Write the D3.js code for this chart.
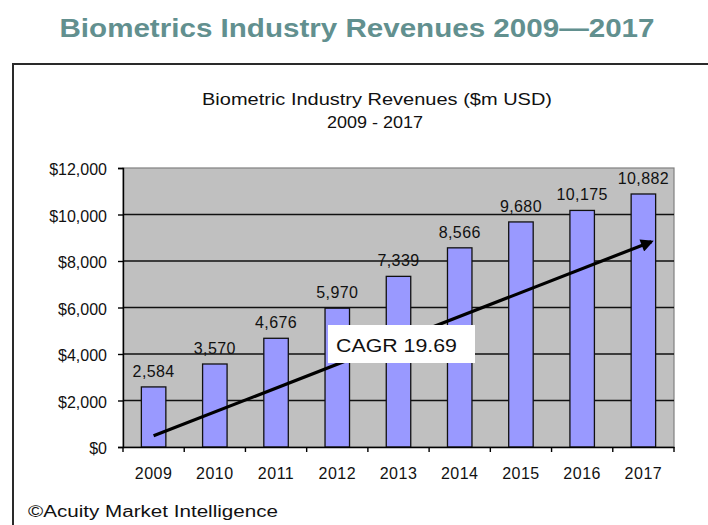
<!DOCTYPE html>
<html>
<head>
<meta charset="utf-8">
<script src="https://cdn.jsdelivr.net/npm/d3@7"></script>
<style>
  html, body { margin: 0; padding: 0; background: #fff; }
  svg { display: block; font-family: "Liberation Sans", Arial, sans-serif; }
</style>
</head>
<body>
<svg id="chart" width="708" height="525"></svg>
<script>
// Biometric industry revenues, $m USD
const years = ["2009", "2010", "2011", "2012", "2013", "2014", "2015", "2016", "2017"];
const revenues = [2584, 3570, 4676, 5970, 7339, 8566, 9680, 10175, 10882];
const yTicks = [0, 2000, 4000, 6000, 8000, 10000, 12000];
const yDomain = [0, 12000];

// Growth trend arrow (category index, value) and its label
const trendIndex = [0, 8.13];
const trendValue = [480, 8830];
const cagrLabel = "CAGR 19.69";

const pageTitle = "Biometrics Industry Revenues 2009\u20142017";
const chartTitle = ["Biometric Industry Revenues ($m USD)", "2009 - 2017"];
const credit = "\u00A9Acuity Market Intelligence";

const svg = d3.select("#chart");

// page title
svg.append("text")
  .attr("x", 357).attr("y", 37)
  .attr("text-anchor", "middle")
  .attr("font-size", 26).attr("font-weight", "bold")
  .attr("fill", "#62908f")
  .attr("textLength", 595).attr("lengthAdjust", "spacingAndGlyphs")
  .text(pageTitle);

// outer frame
svg.append("rect")
  .attr("x", 13).attr("y", 64).attr("width", 720).attr("height", 500)
  .attr("fill", "none").attr("stroke", "#2a2a2a").attr("stroke-width", 2);

// chart title
svg.append("text")
  .attr("x", 377).attr("y", 105)
  .attr("text-anchor", "middle").attr("font-size", 17).attr("fill", "#111")
  .attr("textLength", 350).attr("lengthAdjust", "spacingAndGlyphs")
  .text(chartTitle[0]);
svg.append("text")
  .attr("x", 375).attr("y", 128)
  .attr("text-anchor", "middle").attr("font-size", 17).attr("fill", "#111")
  .attr("textLength", 96).attr("lengthAdjust", "spacingAndGlyphs")
  .text(chartTitle[1]);

const plot = { left: 123, right: 674, top: 168, bottom: 447 };

const x = d3.scaleBand()
  .domain(years)
  .range([plot.left, plot.right])
  .paddingInner(0.6).paddingOuter(0.3);

const y = d3.scaleLinear().domain(yDomain).range([plot.bottom, plot.top]);

const idx = d3.scaleLinear()
  .domain([0, 1])
  .range([x(years[0]) + x.bandwidth() / 2, x(years[1]) + x.bandwidth() / 2]);

// plot area
svg.append("rect")
  .attr("x", plot.left).attr("y", plot.top)
  .attr("width", plot.right - plot.left).attr("height", plot.bottom - plot.top)
  .attr("fill", "#c0c0c0").attr("stroke", "#808080").attr("stroke-width", 1.2);

// gridlines
svg.append("g").selectAll("line")
  .data(yTicks.filter(d => d > 0 && d < yDomain[1]))
  .join("line")
  .attr("x1", plot.left).attr("x2", plot.right)
  .attr("y1", d => y(d)).attr("y2", d => y(d))
  .attr("stroke", "#111").attr("stroke-width", 1.4);

// bars
svg.append("g").selectAll("rect")
  .data(revenues)
  .join("rect")
  .attr("x", (d, i) => x(years[i]))
  .attr("y", d => y(d))
  .attr("width", x.bandwidth())
  .attr("height", d => y(0) - y(d))
  .attr("fill", "#9999ff")
  .attr("stroke", "#111").attr("stroke-width", 1.3);

// value labels
svg.append("g").selectAll("text")
  .data(revenues)
  .join("text")
  .attr("x", (d, i) => x(years[i]) + x.bandwidth() / 2)
  .attr("y", d => y(d) - 10)
  .attr("text-anchor", "middle").attr("font-size", 16).attr("fill", "#111")
  .attr("letter-spacing", 0.4)
  .text(d => d3.format(",")(d));

// trend arrow
const defs = svg.append("defs");
defs.append("marker")
  .attr("id", "head")
  .attr("viewBox", "0 0 10 10")
  .attr("refX", 8).attr("refY", 5)
  .attr("markerWidth", 4.5).attr("markerHeight", 4)
  .attr("markerUnits", "strokeWidth")
  .attr("orient", "auto")
  .append("path").attr("d", "M0,0 L10,5 L0,10 Z").attr("fill", "#000");

svg.append("line")
  .attr("x1", idx(trendIndex[0])).attr("y1", y(trendValue[0]))
  .attr("x2", idx(trendIndex[1])).attr("y2", y(trendValue[1]))
  .attr("stroke", "#000").attr("stroke-width", 3.2)
  .attr("marker-end", "url(#head)");

// CAGR label box
const boxG = svg.append("g");
boxG.append("rect")
  .attr("x", 328).attr("y", 325).attr("width", 147).attr("height", 38)
  .attr("fill", "#fff");
boxG.append("text")
  .attr("x", 336).attr("y", 352)
  .attr("font-size", 18).attr("fill", "#111")
  .attr("textLength", 121).attr("lengthAdjust", "spacingAndGlyphs")
  .text(cagrLabel);

// y axis
const yAxis = d3.axisLeft(y)
  .tickValues(yTicks)
  .tickSize(5)
  .tickFormat(d => "$" + d3.format(",")(d));
const yg = svg.append("g")
  .attr("transform", `translate(${plot.left},0)`)
  .call(yAxis);
yg.select(".domain").attr("stroke", "#000").attr("stroke-width", 1.4);
yg.selectAll(".tick line").attr("stroke", "#000").attr("stroke-width", 1.4);
yg.selectAll(".tick text")
  .attr("x", -16).attr("dy", "0.42em")
  .attr("font-size", 16).attr("fill", "#111")
  .attr("font-family", "'Liberation Sans', Arial, sans-serif");

// x axis
const xAxis = d3.axisBottom(x).tickSize(0).tickSizeOuter(0);
const xg = svg.append("g")
  .attr("transform", `translate(0,${plot.bottom})`)
  .call(xAxis);
xg.select(".domain").attr("stroke", "#000").attr("stroke-width", 1.4);
xg.selectAll(".tick text")
  .attr("y", 21).attr("dy", "0.71em")
  .attr("font-size", 16).attr("fill", "#111")
  .attr("letter-spacing", 0.5)
  .attr("font-family", "'Liberation Sans', Arial, sans-serif");

// category separator ticks
xg.append("g").selectAll("line")
  .data(d3.range(years.length + 1))
  .join("line")
  .attr("x1", i => plot.left + i * (plot.right - plot.left) / years.length)
  .attr("x2", i => plot.left + i * (plot.right - plot.left) / years.length)
  .attr("y1", 0).attr("y2", 5)
  .attr("stroke", "#000").attr("stroke-width", 1.4);

// credit line
svg.append("text")
  .attr("x", 28).attr("y", 517)
  .attr("font-size", 16).attr("fill", "#111")
  .attr("textLength", 250).attr("lengthAdjust", "spacingAndGlyphs")
  .text(credit);
</script>
</body>
</html>
